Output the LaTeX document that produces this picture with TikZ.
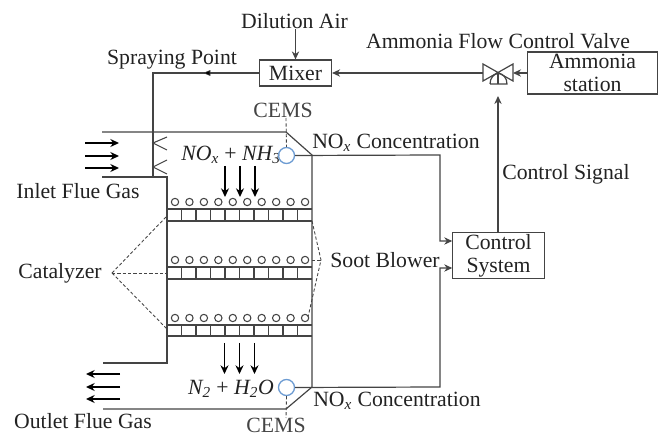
\documentclass[tikz,border=0pt]{standalone}
\usepackage{fontspec}
\setmainfont{Liberation Serif}
\usetikzlibrary{arrows.meta}
\definecolor{ln}{HTML}{444444}
\definecolor{tx}{HTML}{222222}
\definecolor{sens}{HTML}{6C9BD2}
\tikzset{
  wall/.style={draw=ln,line width=0.9pt},
  thinw/.style={draw=ln,line width=0.8pt},
  sig/.style={draw=ln,line width=0.9pt,-{Stealth[length=6pt,width=5.5pt]}},
  flow/.style={draw=black,line width=1pt,-{Stealth[length=6.5pt,width=6pt]}},
  leader/.style={draw=ln,line width=0.65pt,dash pattern=on 2.4pt off 1.6pt},
  boxn/.style={draw=ln,line width=0.9pt,minimum width=0pt,inner sep=0pt,align=center,text=tx,font=\fontsize{16.3}{17}\selectfont},
  lab/.style={text=tx,inner sep=0pt,font=\fontsize{16.3}{18}\selectfont},
  soot/.style={circle,draw=ln,line width=0.8pt,minimum size=5.5pt,inner sep=0pt},
  sensor/.style={circle,draw=sens,line width=1pt,minimum size=12pt,inner sep=0pt},
}
\begin{document}
\begin{tikzpicture}[x=0.75pt,y=-0.75pt]
\useasboundingbox (0,0) rectangle (661,434);
% boxes
\node[boxn,minimum width=54pt,minimum height=19.5pt] (mixer) at (295.5,73) {Mixer};
\node[boxn,minimum width=98pt,minimum height=31.5pt] (station) at (592.5,73) {Ammonia\\station};
\node[boxn,minimum width=68.5pt,minimum height=35pt] (ctrl) at (498.5,255.5) {Control\\System};
% labels
\node[lab] (dil) at (294.5,21) {Dilution Air};
\node[lab] (spray) at (172,60) {Spraying Point};
\node[lab] (valvel) at (498,41) {Ammonia Flow Control Valve};
\node[lab,text=ln] (cemsa) at (283,110) {CEMS};
\node[lab,anchor=west] (noxa) at (312,143) {NO\textsubscript{\textit{x}} Concentration};
\node[lab,anchor=west] (sig) at (502,174) {Control Signal};
\node[lab] (inl) at (78,191) {Inlet Flue Gas};
\node[lab] (cat) at (60,273) {Catalyzer};
\node[lab] (blow) at (385,260) {Soot Blower};
\node[lab,anchor=west] (noxb) at (313,401) {NO\textsubscript{\textit{x}} Concentration};
\node[lab] (outl) at (83,421) {Outlet Flue Gas};
\node[lab,text=ln] (cemsb) at (276,425) {CEMS};
\node[lab] (rea) at (231,155) {\textit{NO\textsubscript{x}} + \textit{NH\textsubscript{3}}};
\node[lab] (pro) at (231,389) {\textit{N\textsubscript{2}} + \textit{H\textsubscript{2}O}};
% reactor outline
\coordinate (ta) at (102,132); \coordinate (tb) at (286,132); \coordinate (tc) at (312,155);
\coordinate (bc) at (312,387); \coordinate (bb) at (286,409); \coordinate (ba) at (103,409);
\coordinate (la) at (102,177); \coordinate (lb) at (167,177); \coordinate (lc) at (167,363); \coordinate (ld) at (103,363);
\draw[wall] (ta) -- (tb) -- (tc) -- (bc) -- (bb) -- (ba);
\draw[wall] (la) -- (lb) -- (lc) -- (ld);
% catalyst layers and soot blowers
\foreach \yt/\yb/\yc in {209/221/202,267/279/260,325/336/318}{
  \draw[wall] (167,\yt) -- (312,\yt) (167,\yb) -- (312,\yb);
  \foreach \i in {1,...,9} \draw[thinw] ({167+\i*14.5},\yt) -- ({167+\i*14.5},\yb);
  \foreach \i in {0,...,9} \node[soot] at ({175+\i*14.45},\yc) {};
}
% sensors
\node[sensor] (sa) at (286.5,155.5) {};
\node[sensor] (sb) at (286.5,387.5) {};
% spraying pipe and nozzles
\coordinate (pc) at (153,73); \coordinate (pd) at (153,177);
\draw[wall] (mixer.west) -- (pc) -- (pd);
\draw[draw=ln,fill=black] (204,73) -- (210,70.5) -- (210,75.5) -- cycle;
\draw[thinw] (167,137) -- (153,143) -- (167,150);
\draw[thinw] (167,160) -- (153,167) -- (167,174);
% flow arrows
\foreach \y in {143,156,168} \draw[flow] (85,\y) -- (119,\y);
\foreach \y in {374,387,399} \draw[flow] (120,\y) -- (86,\y);
\foreach \x in {225,240,255} \draw[flow] (\x,166) -- (\x,197);
\foreach \x in {224.5,239.5,254.5} \draw[flow] (\x,343) -- (\x,374);
% valve
\coordinate (vc) at (498,73); \coordinate (vl) at (483,73); \coordinate (vr) at (513,73);
\coordinate (vs) at (498,84); \coordinate (va) at (498,96);
\draw[wall] (483,64) -- (513,81) -- (513,64) -- (483,81) -- cycle;
\draw[wall] (vc) -- (vs);
\draw[wall] (490,84) -- (507,84) arc[start angle=0,end angle=180,x radius=8.5,y radius=-10.5];
% connectors
\draw[sig] (dil.south -| mixer.north) -- (mixer.north);
\draw[sig] (vl) -- (mixer.east);
\draw[sig] (station.west) -- (vr);
\draw[sig] (ctrl.north -| va) -- (va);
\coordinate (ra) at (440,155); \coordinate (rb) at (440,241);
\coordinate (rc) at (440,387); \coordinate (rd) at (440,268);
\draw[sig] (sa.east) -- (ra) -- (rb) -- (rb -| ctrl.west);
\draw[sig] (sb.east) -- (rc) -- (rd) -- (rd -| ctrl.west);
% dashed leaders
\coordinate (ca) at (112,273); \coordinate (sx) at (321,260);
\draw[leader] (286,118) -- (sa.north);
\draw[leader] (sb.south) -- (286,418);
\draw[leader] (ca) -- (166,217);
\draw[leader] (ca) -- (167,273);
\draw[leader] (ca) -- (167,329);
\draw[leader] (312,221) -- (sx) -- (308,317);
\draw[leader] (312,260) -- (sx);
\end{tikzpicture}
\end{document}
